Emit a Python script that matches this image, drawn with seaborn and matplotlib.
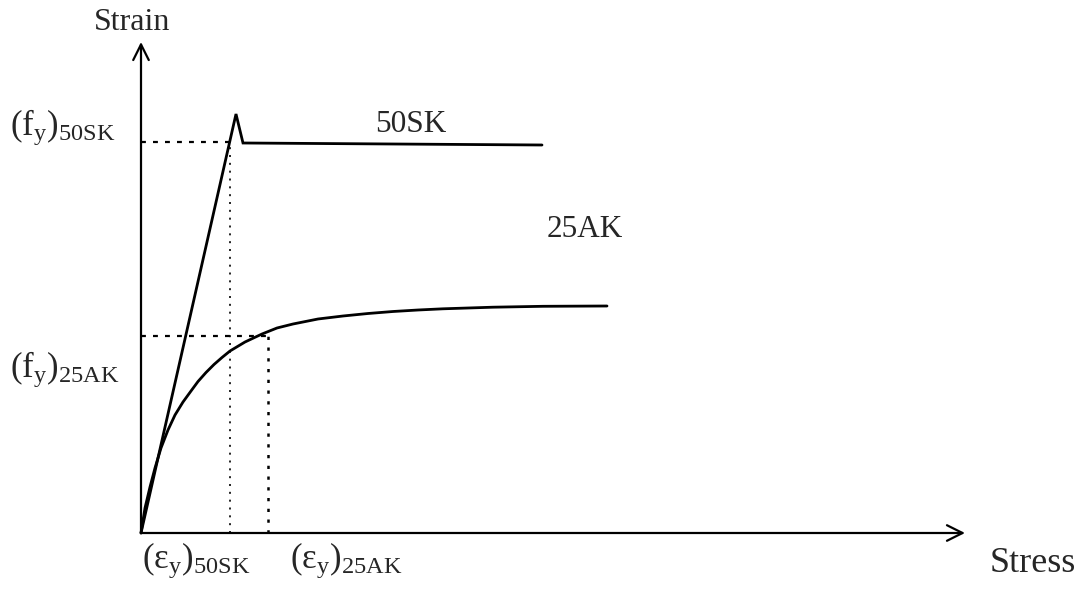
import matplotlib
matplotlib.use("Agg")
import matplotlib.pyplot as plt
import seaborn as sns
import pandas as pd

# Schematic stress-strain curves (arbitrary units)
sk50_x = [0.00, 0.95, 1.02, 4.01]
sk50_y = [0.00, 4.19, 3.90, 3.88]

ak25_x = [0.00, 0.04, 0.09, 0.14, 0.20, 0.27, 0.34, 0.42, 0.50, 0.57,
          0.65, 0.73, 0.81, 0.89, 1.04, 1.21, 1.36, 1.52, 1.77, 2.02,
          2.27, 2.52, 2.77, 3.02, 3.52, 4.02, 4.66]
ak25_y = [0.00, 0.25, 0.46, 0.65, 0.85, 1.03, 1.18, 1.31, 1.42, 1.515,
          1.605, 1.685, 1.755, 1.82, 1.91, 1.99, 2.05, 2.09, 2.14, 2.17,
          2.195, 2.215, 2.23, 2.242, 2.258, 2.267, 2.27]

# Yield points
fy_50sk, ey_50sk = 3.91, 0.89
fy_25ak, ey_25ak = 1.97, 1.27

x_axis_end = 8.24
y_axis_end = 4.91

sns.set_theme(style="white")
plt.rcParams["font.family"] = ["Liberation Serif", "DejaVu Serif"]
plt.rcParams["mathtext.fontset"] = "custom"
plt.rcParams["mathtext.rm"] = "Liberation Serif"
plt.rcParams["mathtext.it"] = "Liberation Serif:italic"

fig = plt.figure(figsize=(10.87, 5.89), dpi=100)
ax = fig.add_axes([0, 0, 1, 1])
ax.set_xlim(-1.41, 9.46)
ax.set_ylim(-0.56, 5.33)
ax.axis("off")

df50 = pd.DataFrame({"stress": sk50_x, "strain": sk50_y})
df25 = pd.DataFrame({"stress": ak25_x, "strain": ak25_y})
sns.lineplot(data=df50, x="stress", y="strain", sort=False, color="black",
             lw=2.0, ax=ax, solid_joinstyle="miter")
sns.lineplot(data=df25, x="stress", y="strain", sort=False, color="black",
             lw=2.0, ax=ax, solid_joinstyle="round")

# Axes with open arrow heads
arrow = dict(arrowstyle="->", color="black", lw=1.6, mutation_scale=28,
             shrinkA=0, shrinkB=0)
ax.annotate("", xy=(x_axis_end, 0), xytext=(0, 0), arrowprops=arrow)
ax.annotate("", xy=(0, y_axis_end), xytext=(0, 0), arrowprops=arrow)

# Yield guide lines
ax.plot([0, ey_50sk], [fy_50sk, fy_50sk], color="black", lw=1.6,
        ls=(0, (2.2, 3.2)))
ax.plot([ey_50sk, ey_50sk], [0, fy_50sk], color="black", lw=1.2,
        ls=(0, (1.2, 3.5)))
ax.plot([0, ey_25ak], [fy_25ak, fy_25ak], color="black", lw=1.6,
        ls=(0, (2.2, 3.2)))
ax.plot([ey_25ak, ey_25ak], [0, fy_25ak], color="black", lw=1.8,
        ls=(0, (1.3, 3.0)))

# Labels
ax.text(-0.09, 5.03, "Strain", fontsize=23, ha="center", va="baseline")
ax.text(8.49, -0.39, "Stress", fontsize=26, ha="left", va="baseline")
ax.text(2.34, 4.01, "50SK", fontsize=22.5, ha="left", va="baseline")
ax.text(4.06, 2.96, "25AK", fontsize=22.5, ha="left", va="baseline")

ax.text(-1.31, fy_50sk + 0.07, r"$(\mathrm{f}_\mathrm{y})_\mathrm{50SK}$",
        fontsize=25, ha="left", va="baseline")
ax.text(-1.31, fy_25ak - 0.41, r"$(\mathrm{f}_\mathrm{y})_\mathrm{25AK}$",
        fontsize=25, ha="left", va="baseline")
ax.text(0.01, -0.35, r"$(\mathrm{ε}_\mathrm{y})_\mathrm{50SK}$",
        fontsize=25, ha="left", va="baseline")
ax.text(1.49, -0.35, r"$(\mathrm{ε}_\mathrm{y})_\mathrm{25AK}$",
        fontsize=25, ha="left", va="baseline")

fig.savefig("out.png", dpi=100, facecolor="white")
